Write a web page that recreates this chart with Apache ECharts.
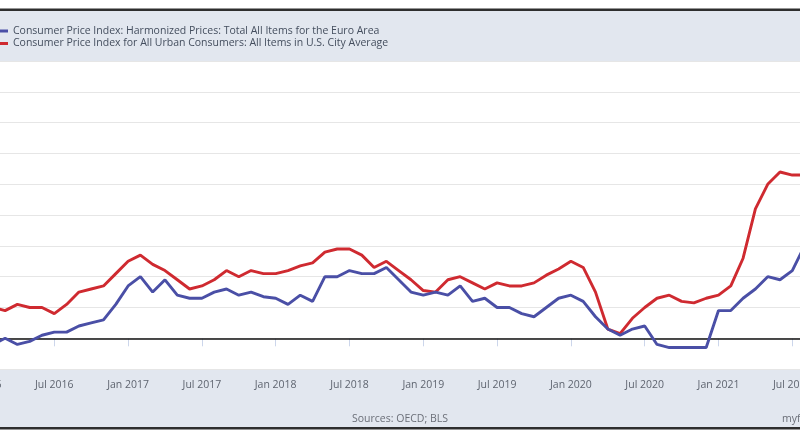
<!DOCTYPE html>
<html>
<head>
<meta charset="utf-8">
<script src="https://cdn.jsdelivr.net/npm/echarts@6/dist/echarts.min.js"></script>
<style>
html,body{margin:0;padding:0;background:#fff;}
#chart{width:800px;height:445px;}
</style>
</head>
<body>
<div id="chart"></div>
<script>
// Monthly categories Jan 2016 .. Aug 2021
const monthNames = ['Jan','Feb','Mar','Apr','May','Jun','Jul','Aug','Sep','Oct','Nov','Dec'];
const startYear = 2016, endYear = 2021, endMonth = 8;
const categories = [];
for (let y = startYear; y <= endYear; y++) {
  for (let m = 0; m < 12; m++) {
    if (y === endYear && m >= endMonth) break;
    categories.push(monthNames[m] + ' ' + y);
  }
}

const seriesNames = [
  'Consumer Price Index: Harmonized Prices: Total All Items for the Euro Area',
  'Consumer Price Index for All Urban Consumers: All Items in U.S. City Average'
];

// Euro area HICP, % change from year ago
const euroValues = [
  0.3, -0.2, 0.0, -0.2, -0.1, 0.1, 0.2, 0.2, 0.4, 0.5, 0.6, 1.1,
  1.7, 2.0, 1.5, 1.9, 1.4, 1.3, 1.3, 1.5, 1.6, 1.4, 1.5, 1.35,
  1.3, 1.1, 1.4, 1.2, 2.0, 2.0, 2.2, 2.1, 2.1, 2.3, 1.9, 1.5,
  1.4, 1.5, 1.4, 1.7, 1.2, 1.3, 1.0, 1.0, 0.8, 0.7, 1.0, 1.3,
  1.4, 1.2, 0.7, 0.3, 0.1, 0.3, 0.4, -0.2, -0.3, -0.3, -0.3, -0.3,
  0.9, 0.9, 1.3, 1.6, 2.0, 1.9, 2.2, 3.0
];

// US CPI-U, % change from year ago
const usValues = [
  1.4, 1.0, 0.9, 1.1, 1.0, 1.0, 0.8, 1.1, 1.5, 1.6, 1.7, 2.1,
  2.5, 2.7, 2.4, 2.2, 1.9, 1.6, 1.7, 1.9, 2.2, 2.0, 2.2, 2.1,
  2.1, 2.2, 2.35, 2.45, 2.8, 2.9, 2.9, 2.7, 2.3, 2.5, 2.2, 1.9,
  1.55, 1.5, 1.9, 2.0, 1.8, 1.6, 1.8, 1.7, 1.7, 1.8, 2.05, 2.25,
  2.5, 2.3, 1.5, 0.3, 0.15, 0.65, 1.0, 1.3, 1.4, 1.2, 1.15, 1.3,
  1.4, 1.7, 2.6, 4.2, 5.0, 5.4, 5.3, 5.3
];

const yMin = -1, yMax = 9, yStep = 1;
const sourceText = 'Sources: OECD; BLS';
const creditText = 'myf.red';

const isTickMonth = (idx, val) => {
  const v = categories[idx];
  return v.startsWith('Jan') || v.startsWith('Jul');
};

const chart = echarts.init(document.getElementById('chart'), null, {renderer: 'canvas'});
const option = {
  animation: false,
  backgroundColor: '#ffffff',
  textStyle: {fontFamily: 'Open Sans'},
  graphic: [
    {type: 'rect', z: -10, shape: {x: 0, y: 11, width: 800, height: 50}, style: {fill: '#e2e7ef'}},
    {type: 'rect', z: -10, shape: {x: 0, y: 8.5, width: 800, height: 2.5}, style: {fill: '#2e2e2e'}},
    {type: 'rect', z: -10, shape: {x: 0, y: 370, width: 800, height: 57}, style: {fill: '#e2e7ef'}},
    {type: 'rect', z: -10, shape: {x: 0, y: 427, width: 800, height: 2.5}, style: {fill: '#2e2e2e'}},
    {type: 'text', left: 352, top: 414, style: {text: sourceText, fill: '#6b6f78', font: '10.5px "Open Sans"'}},
    {type: 'text', left: 782, top: 414, style: {text: creditText, fill: '#6b6f78', font: '10.5px "Open Sans"'}}
  ],
  legend: {
    orient: 'vertical',
    left: -10,
    top: 20,
    itemGap: 0.5,
    itemWidth: 13,
    itemHeight: 3,
    itemTextGap: 6,
    icon: 'rect',
    textStyle: {fontSize: 10.5, lineHeight: 12, color: '#444e5e', fontFamily: 'Open Sans'},
    data: seriesNames
  },
  grid: {left: -19.5, right: -4.6, top: 61.1, bottom: 75.9, containLabel: false, outerBoundsMode: 'none'},
  xAxis: {
    type: 'category',
    data: categories,
    boundaryGap: false,
    axisLine: {show: false},
    axisTick: {show: true, interval: isTickMonth, length: 8, lineStyle: {color: '#ccd6eb'}},
    axisLabel: {interval: isTickMonth, color: '#5f6570', fontSize: 10.5, margin: 10, fontFamily: 'Open Sans'},
    splitLine: {show: false}
  },
  yAxis: {
    type: 'value',
    min: yMin, max: yMax, interval: yStep,
    axisLabel: {show: false},
    axisLine: {show: false},
    axisTick: {show: false},
    splitLine: {lineStyle: {color: '#e6e6e6', width: 1}}
  },
  series: [
    {
      name: seriesNames[0], type: 'line', data: euroValues, showSymbol: false, symbol: 'none',
      color: '#4a4fa6', lineStyle: {width: 2.9, color: '#4a4fa6'}, z: 3,
      markLine: {silent: true, symbol: 'none', label: {show: false},
        lineStyle: {color: '#111', width: 1.5, type: 'solid'}, data: [{yAxis: 0}], z: 1}
    },
    {
      name: seriesNames[1], type: 'line', data: usValues, showSymbol: false, symbol: 'none',
      color: '#cf2a30', lineStyle: {width: 2.9, color: '#cf2a30'}, z: 2
    }
  ]
};
chart.setOption(option);
</script>
</body>
</html>
